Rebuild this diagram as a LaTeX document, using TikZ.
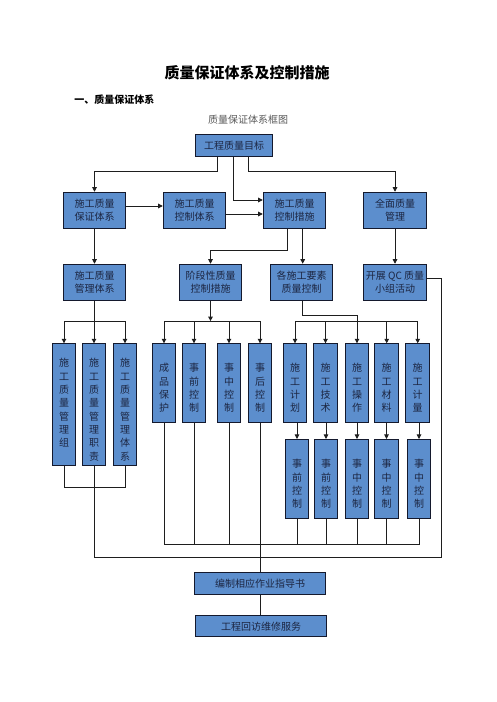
\documentclass[tikz,border=0pt]{standalone}
\usepackage{fontspec}
\setmainfont{Noto Sans CJK SC}
\usetikzlibrary{arrows.meta}
\pgfdeclarelayer{bg}
\pgfsetlayers{bg,main}
\newdimen\upx \upx=0.75pt
\definecolor{boxfill}{RGB}{92,142,205}
\definecolor{boxtext}{RGB}{28,38,66}
\definecolor{boxline}{RGB}{20,25,45}
\definecolor{linec}{RGB}{30,30,30}
\tikzset{
  box/.style={draw=boxline, fill=boxfill, line width=0.8pt, text=boxtext, inner sep=0pt, align=center,
    font=\fontsize{7.5pt}{10pt}\selectfont},
  hbox/.style={box, minimum width=62.4\upx, minimum height=36\upx},
  vbox/.style={box, minimum width=23.5\upx},
  vtext/.style={text=boxtext, inner sep=0pt, align=center, font=\fontsize{7.5pt}{10pt}\selectfont},
  ln/.style={draw=linec, line width=0.65pt},
  arr/.style={-{Triangle[length=3.4pt,width=3.4pt]}}
}
\newcommand{\vbx}[6]{%
  \node[vbox, minimum height=#4\upx, anchor=north] (#1) at (#2,#3) {};
  \node[vtext, anchor=north] (#1t) at ([yshift=-#5\upx]#1.north) {#6};
}
\begin{document}
\begin{tikzpicture}[x=0.75pt,y=-0.75pt]
\useasboundingbox (0,0) rectangle (496,702);

\node[font=\fontsize{11.25pt}{13pt}\selectfont\bfseries, inner sep=0pt] (title) at (247,73) {质量保证体系及控制措施};
\node[anchor=west, font=\fontsize{7.5pt}{9pt}\selectfont\bfseries, inner sep=0pt] (sub) at (74,100) {一、质量保证体系};
\node[text=black!65, font=\fontsize{7.5pt}{9pt}\selectfont, inner sep=0pt] (cap) at (248,120) {质量保证体系框图};

\node[box, minimum width=76.6\upx, minimum height=21.7\upx] (goal) at (234,145.8) {工程质量目标};
\node[hbox] (A) at (94.5,210.3) {施工质量\\保证体系};
\node[hbox] (B) at (194.5,210.3) {施工质量\\控制体系};
\node[hbox] (C) at (294.5,210.3) {施工质量\\控制措施};
\node[hbox] (D) at (395,210.3) {全面质量\\管理};
\node[hbox] (E) at (94.5,282.3) {施工质量\\管理体系};
\node[hbox] (F) at (210.5,282.3) {阶段性质量\\控制措施};
\node[hbox] (G) at (301.5,282.3) {各施工要素\\质量控制};
\node[hbox] (H) at (395,282.3) {开展 QC 质量\\小组活动};

\vbx{e1}{64}{343.3}{121.7}{15}{施\\工\\质\\量\\管\\理\\组}
\vbx{e2}{94}{343.3}{121.7}{15}{施\\工\\质\\量\\管\\理\\职\\责}
\vbx{e3}{125}{343.3}{121.7}{15}{施\\工\\质\\量\\管\\理\\体\\系}

\vbx{f1}{164}{343.3}{79}{20}{成\\品\\保\\护}
\vbx{f2}{194}{343.3}{79}{20}{事\\前\\控\\制}
\vbx{f3}{229}{343.3}{79}{20}{事\\中\\控\\制}
\vbx{f4}{260}{343.3}{79}{20}{事\\后\\控\\制}

\vbx{g1}{295}{343.3}{79}{20}{施\\工\\计\\划}
\vbx{g2}{325.5}{343.3}{79}{20}{施\\工\\技\\术}
\vbx{g3}{357}{343.3}{79}{20}{施\\工\\操\\作}
\vbx{g4}{386.7}{343.3}{79}{20}{施\\工\\材\\料}
\vbx{g5}{417.7}{343.3}{79}{20}{施\\工\\计\\量}

\vbx{s1}{297}{439}{79.3}{20}{事\\前\\控\\制}
\vbx{s2}{326}{439}{79.3}{20}{事\\前\\控\\制}
\vbx{s3}{357}{439}{79.3}{20}{事\\中\\控\\制}
\vbx{s4}{386.5}{439}{79.3}{20}{事\\中\\控\\制}
\vbx{s5}{419}{439}{79.3}{20}{事\\中\\控\\制}

\node[box, minimum width=131.4\upx, minimum height=21.6\upx] (W) at (260,583.5) {编制相应作业指导书};
\node[box, minimum width=131.4\upx, minimum height=21\upx] (V) at (261,626.2) {工程回访维修服务};

\begin{pgfonlayer}{bg}
\fill[white] (0,0) rectangle (496,702);
% top level
\draw[ln,arr] ([xshift=-16.3\upx]goal.south) -- ++(0,14.3) -| (A.north);
\draw[ln,arr] ([xshift=-0.7\upx]goal.south) |- ([yshift=10.3\upx]C.west);
\draw[ln,arr] ([xshift=14.3\upx]goal.south) -- ++(0,14.3) -| (D.north);
\draw[ln,arr] ([yshift=4.3\upx]A.east) -- ([yshift=4.3\upx]B.west);
\draw[ln,arr] ([yshift=-3.7\upx]B.east) -- ([yshift=-3.7\upx]C.west);
\draw[ln,arr] (A.south) -- (E.north);
\draw[ln,arr] ([xshift=-7.2\upx]C.south) -- ++(0,21.7) -| (F.north);
\coordinate (c2) at ([xshift=8.2\upx]C.south);
\draw[ln,arr] (c2) -- (c2 |- G.north);
\draw[ln,arr] (D.south) -- (H.north);

% E bus
\coordinate (ebus) at ([yshift=-20.3\upx]E.south);
\draw[ln] (E.south) -- (ebus);
\draw[ln] (e1.north |- ebus) -- (e3.north |- ebus);
\foreach \n in {e1,e2,e3} \draw[ln,arr] (\n.north |- ebus) -- (\n.north);

% F bus
\coordinate (fbus) at ([yshift=-20.3\upx]F.south);
\draw[ln,arr] (F.south) -- (fbus);
\draw[ln] (f1.north |- fbus) -- (f4.north |- fbus);
\foreach \n in {f1,f2,f3,f4} \draw[ln,arr] (\n.north |- fbus) -- (\n.north);

% G bus
\coordinate (gk) at ([xshift=1.2\upx,yshift=-14.3\upx]G.south);
\draw[ln] ([xshift=1.2\upx]G.south) -- (gk) -| (g3.north |- fbus);
\draw[ln] (g1.north |- fbus) -- (g5.north |- fbus);
\foreach \n in {g1,g2,g3,g4,g5} \draw[ln,arr] (\n.north |- fbus) -- (\n.north);

% g -> s
\draw[ln,arr] (s1.north |- g1.south) -- (s1.north);
\draw[ln,arr] (s2.north |- g2.south) -- (s2.north);
\draw[ln,arr] (s3.north |- g3.south) -- (s3.north);
\draw[ln,arr] (s4.north |- g4.south) -- (s4.north);
\draw[ln,arr] (s5.north |- g5.south) -- (s5.north);

% H feedback
\coordinate (hb) at (441,557.7);
\draw[ln] ([yshift=4\upx]H.east) -| (hb) -- (e2.south |- hb);
\coordinate (ej) at ([yshift=-21\upx]e2.south);
\draw[ln] (e1.south) -- (e1.south |- ej) -- (e3.south |- ej) -- (e3.south);
\draw[ln] (e2.south) -- (e2.south |- hb);

% F/S bottom bus
\coordinate (fb2) at ([yshift=-121\upx]f1.south);
\draw[ln] (f1.south) -- (f1.south |- fb2) -- (s5.south |- fb2) -- (s5.south);
\foreach \n in {f2,f3,s1,s2,s3,s4} \draw[ln] (\n.south) -- (\n.south |- fb2);
\draw[ln] (f4.south) -- (f4.south |- W.north);
\draw[ln] (W.south) -- (W.south |- V.north);
\end{pgfonlayer}
\end{tikzpicture}
\end{document}
